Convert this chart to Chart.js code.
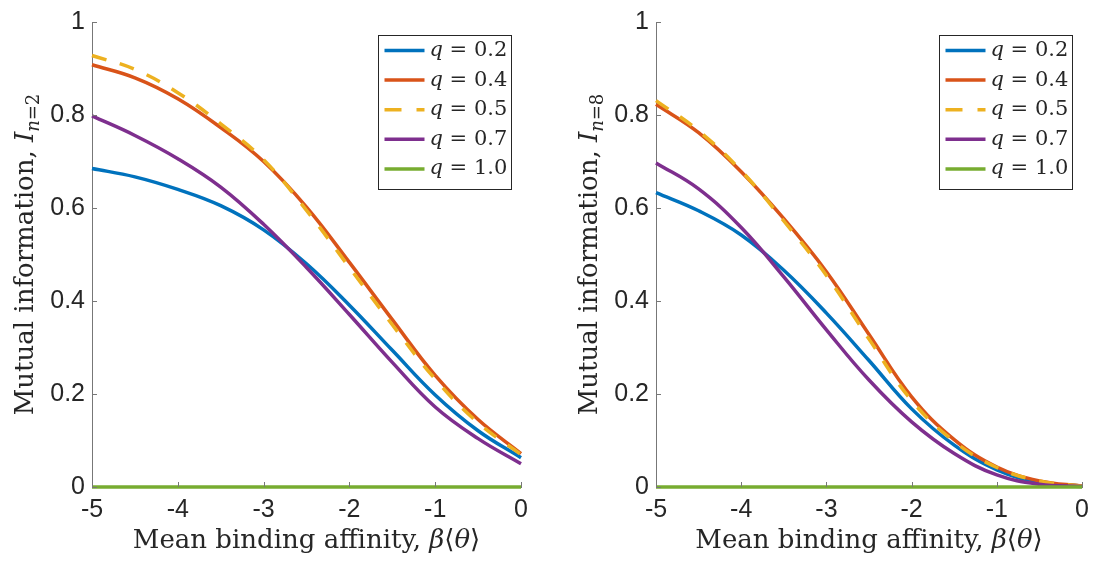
<!DOCTYPE html>
<html>
<head>
<meta charset="utf-8">
<script src="https://cdn.jsdelivr.net/npm/chart.js@4"></script>
<style>
  html, body { margin: 0; padding: 0; background: #fff; }
  .wrap { display: flex; width: 1097px; height: 566px; }
  .panel { position: relative; height: 566px; }
  #left { width: 548px; }
  #right { width: 549px; }
</style>
</head>
<body>
<div class="wrap">
  <div class="panel" id="left"><canvas id="chartN2"></canvas></div>
  <div class="panel" id="right"><canvas id="chartN8"></canvas></div>
</div>
<script>
// x values (mean binding affinity)
const betaTheta = [-5, -4.5, -4, -3.5, -3, -2.5, -2, -1.5, -1, -0.5, 0];
const qLabels = ['0.2', '0.4', '0.5', '0.7', '1.0'];

// n = 2
const q02_n2 = [0.685, 0.667, 0.640, 0.605, 0.553, 0.480, 0.391, 0.294, 0.198, 0.121, 0.063];
const q04_n2 = [0.908, 0.880, 0.835, 0.773, 0.700, 0.602, 0.483, 0.360, 0.240, 0.145, 0.072];
const q05_n2 = [0.928, 0.898, 0.848, 0.781, 0.704, 0.595, 0.472, 0.349, 0.232, 0.138, 0.070];
const q07_n2 = [0.798, 0.756, 0.706, 0.645, 0.565, 0.472, 0.371, 0.268, 0.172, 0.104, 0.050];
const q10_n2 = [0, 0, 0, 0, 0, 0, 0, 0, 0, 0, 0];

// n = 8
const q02_n8 = [0.633, 0.594, 0.542, 0.466, 0.374, 0.272, 0.168, 0.090, 0.037, 0.010, 0.002];
const q04_n8 = [0.823, 0.762, 0.678, 0.577, 0.463, 0.328, 0.194, 0.102, 0.043, 0.013, 0.002];
const q05_n8 = [0.831, 0.766, 0.680, 0.572, 0.455, 0.318, 0.186, 0.098, 0.042, 0.013, 0.002];
const q07_n8 = [0.697, 0.641, 0.558, 0.452, 0.338, 0.230, 0.140, 0.072, 0.026, 0.006, 0.001];
const q10_n8 = [0, 0, 0, 0, 0, 0, 0, 0, 0, 0, 0];

const colors = ['#0072BD', '#D95319', '#EDB120', '#7E2F8E', '#77AC30'];
const axisColor = '#777';
const textColor = '#262626';
const serif = '"DejaVu Serif", serif';

function makeDatasets(series) {
  return series.map((vals, i) => ({
    label: 'q = ' + qLabels[i],
    data: betaTheta.map((x, k) => ({ x: x, y: vals[k] })),
    borderColor: colors[i],
    borderWidth: 3.5,
    borderDash: i === 2 ? [15, 14] : [],
    pointRadius: 0,
    fill: false,
    tension: 0.4,
    clip: 6,
    order: 5 - i
  }));
}

// inward tick marks like matlab
const inwardTicks = {
  id: 'inwardTicks',
  afterDraw(chart) {
    const { ctx, chartArea, scales } = chart;
    ctx.save();
    ctx.strokeStyle = axisColor;
    ctx.lineWidth = 1;
    ctx.beginPath();
    scales.x.ticks.forEach(t => {
      const px = Math.round(scales.x.getPixelForValue(t.value)) + 0.5;
      ctx.moveTo(px, chartArea.bottom);
      ctx.lineTo(px, chartArea.bottom - 5);
    });
    scales.y.ticks.forEach(t => {
      const py = Math.round(scales.y.getPixelForValue(t.value)) + 0.5;
      ctx.moveTo(chartArea.left, py);
      ctx.lineTo(chartArea.left + 5, py);
    });
    ctx.stroke();
    ctx.restore();
  }
};

function drawPieces(ctx, pieces, x, y) {
  let cx = x;
  pieces.forEach(p => {
    ctx.font = p.font;
    ctx.fillText(p.text, cx, y + (p.dy || 0));
    cx += ctx.measureText(p.text).width;
  });
}
function piecesWidth(ctx, pieces) {
  let w = 0;
  pieces.forEach(p => { ctx.font = p.font; w += ctx.measureText(p.text).width; });
  return w;
}

const axisTitles = {
  id: 'axisTitles',
  afterDraw(chart, args, opts) {
    const { ctx, chartArea } = chart;
    ctx.save();
    ctx.fillStyle = textColor;
    ctx.textBaseline = 'alphabetic';
    ctx.textAlign = 'left';
    const xt = [
      { text: 'Mean binding affinity, ', font: '26px ' + serif },
      { text: 'β', font: 'italic 26px ' + serif },
      { text: '⟨', font: '26px ' + serif },
      { text: 'θ', font: 'italic 26px ' + serif },
      { text: '⟩', font: '26px ' + serif }
    ];
    const xw = piecesWidth(ctx, xt);
    drawPieces(ctx, xt, (chartArea.left + chartArea.right) / 2 - xw / 2, 548);

    const yt = [
      { text: 'Mutual information, ', font: '26px ' + serif },
      { text: 'I', font: 'italic 26px ' + serif },
      { text: 'n', font: 'italic 18px ' + serif, dy: 6 },
      { text: '=' + opts.n, font: '18px ' + serif, dy: 6 }
    ];
    const yw = piecesWidth(ctx, yt);
    ctx.translate(chartArea.left - 59, (chartArea.top + chartArea.bottom) / 2);
    ctx.rotate(-Math.PI / 2);
    drawPieces(ctx, yt, -yw / 2, 0);
    ctx.restore();
  }
};

// boxed legend in the top right corner
const boxLegend = {
  id: 'boxLegend',
  afterDraw(chart, args, opts) {
    const { ctx, chartArea } = chart;
    const w = 133, h = 154;
    const x0 = Math.round(chartArea.right - opts.right - w) + 0.5;
    const y0 = Math.round(chartArea.top + 13) + 0.5;
    ctx.save();
    ctx.fillStyle = '#fff';
    ctx.fillRect(x0, y0, w, h);
    ctx.strokeStyle = '#262626';
    ctx.lineWidth = 1;
    ctx.strokeRect(x0, y0, w, h);
    chart.data.datasets.forEach((ds, i) => {
      const y = y0 + 15 + i * 29.6;
      ctx.strokeStyle = ds.borderColor;
      ctx.lineWidth = ds.borderWidth;
      ctx.setLineDash(i === 2 ? [17, 15] : []);
      ctx.beginPath();
      ctx.moveTo(x0 + 6, y);
      ctx.lineTo(x0 + 46, y);
      ctx.stroke();
      ctx.setLineDash([]);
      ctx.fillStyle = textColor;
      ctx.textBaseline = 'middle';
      drawPieces(ctx, [
        { text: 'q', font: 'italic 21px ' + serif },
        { text: ' = ' + qLabels[i], font: '21px ' + serif }
      ], x0 + 51, y);
    });
    ctx.restore();
  }
};

function makeChart(id, series, n, yWidth, padRight) {
  return new Chart(document.getElementById(id), {
    type: 'line',
    data: { datasets: makeDatasets(series) },
    plugins: [inwardTicks, axisTitles, boxLegend],
    options: {
      responsive: true,
      maintainAspectRatio: false,
      animation: false,
      devicePixelRatio: 1,
      layout: { padding: { left: 0, right: padRight, top: 16, bottom: 0 } },
      plugins: {
        legend: { display: false },
        tooltip: { enabled: false },
        axisTitles: { n: n },
        boxLegend: { right: 10 }
      },
      scales: {
        x: {
          type: 'linear',
          min: -5,
          max: 0,
          ticks: { stepSize: 1, color: textColor, padding: 8, font: { family: 'Liberation Sans', size: 25 } },
          grid: { display: false, drawTicks: false },
          border: { color: axisColor, width: 1 },
          afterFit(s) { s.height = 79; }
        },
        y: {
          min: 0,
          max: 1,
          ticks: {
            stepSize: 0.2,
            color: textColor,
            padding: 7,
            font: { family: 'Liberation Sans', size: 25 },
            callback: v => String(Math.round(v * 10) / 10)
          },
          grid: { display: false, drawTicks: false },
          border: { color: axisColor, width: 1 },
          afterFit(s) { s.width = yWidth; }
        }
      }
    }
  });
}

makeChart('chartN2', [q02_n2, q04_n2, q05_n2, q07_n2, q10_n2], 2, 92, 27);
makeChart('chartN8', [q02_n8, q04_n8, q05_n8, q07_n8, q10_n8], 8, 108, 11);
</script>
</body>
</html>
